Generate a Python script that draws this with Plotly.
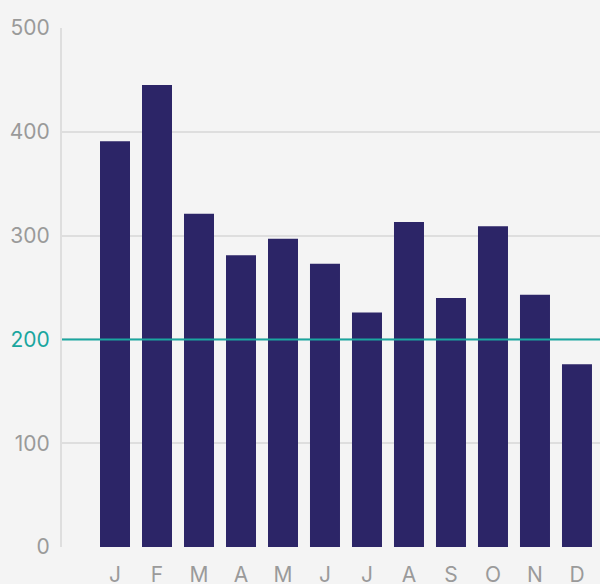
import plotly.graph_objects as go

months = ["J", "F", "M", "A", "M", "J", "J", "A", "S", "O", "N", "D"]
values = [391, 445, 321, 281, 297, 273, 226, 313, 240, 309, 243, 176]
y_ticks = [0, 100, 200, 300, 400, 500]
target = 200

x_idx = list(range(len(months)))

fig = go.Figure()
fig.add_trace(go.Bar(x=x_idx, y=values, marker=dict(color="#2c2567", line=dict(width=0)),
                     width=30/42, hoverinfo="skip"))

tick_text = []
for v in y_ticks:
    if v == target:
        tick_text.append(f"<span style='color:#1aa69f'>{v}</span>")
    else:
        tick_text.append(str(v))

fig.add_shape(type="line", xref="paper", yref="y", x0=0, x1=1, y0=target, y1=target,
              line=dict(color="#1aa69f", width=2), layer="above")

fig.update_layout(
    width=600, height=584,
    margin=dict(l=62, r=0, t=28, b=37),
    paper_bgcolor="#f4f4f4", plot_bgcolor="#f4f4f4",
    showlegend=False,
    font=dict(family="Inter", size=21, color="#9a9a9a"),
    xaxis=dict(
        tickmode="array", tickvals=x_idx, ticktext=months,
        range=[-1.262, 11.548], showgrid=False, zeroline=False,
        showline=False, ticks="", ticklabelstandoff=13, automargin=False,
        tickfont=dict(family="Inter", size=21, color="#9a9a9a"),
    ),
    yaxis=dict(
        tickmode="array", tickvals=y_ticks, ticktext=tick_text,
        range=[0, 500], showgrid=True, gridcolor="#dedede", gridwidth=1.5,
        zeroline=False, showline=True, linecolor="#dedede", linewidth=2,
        ticks="", ticklabelstandoff=6, automargin=False,
        tickfont=dict(family="Inter", size=21, color="#9a9a9a"),
    ),
)

post = ("document.body.style.margin='0';document.body.style.overflow='hidden';"
        "document.body.style.background='#f4f4f4';")
fig.write_html("out.html", post_script=post, config={"displayModeBar": False})
